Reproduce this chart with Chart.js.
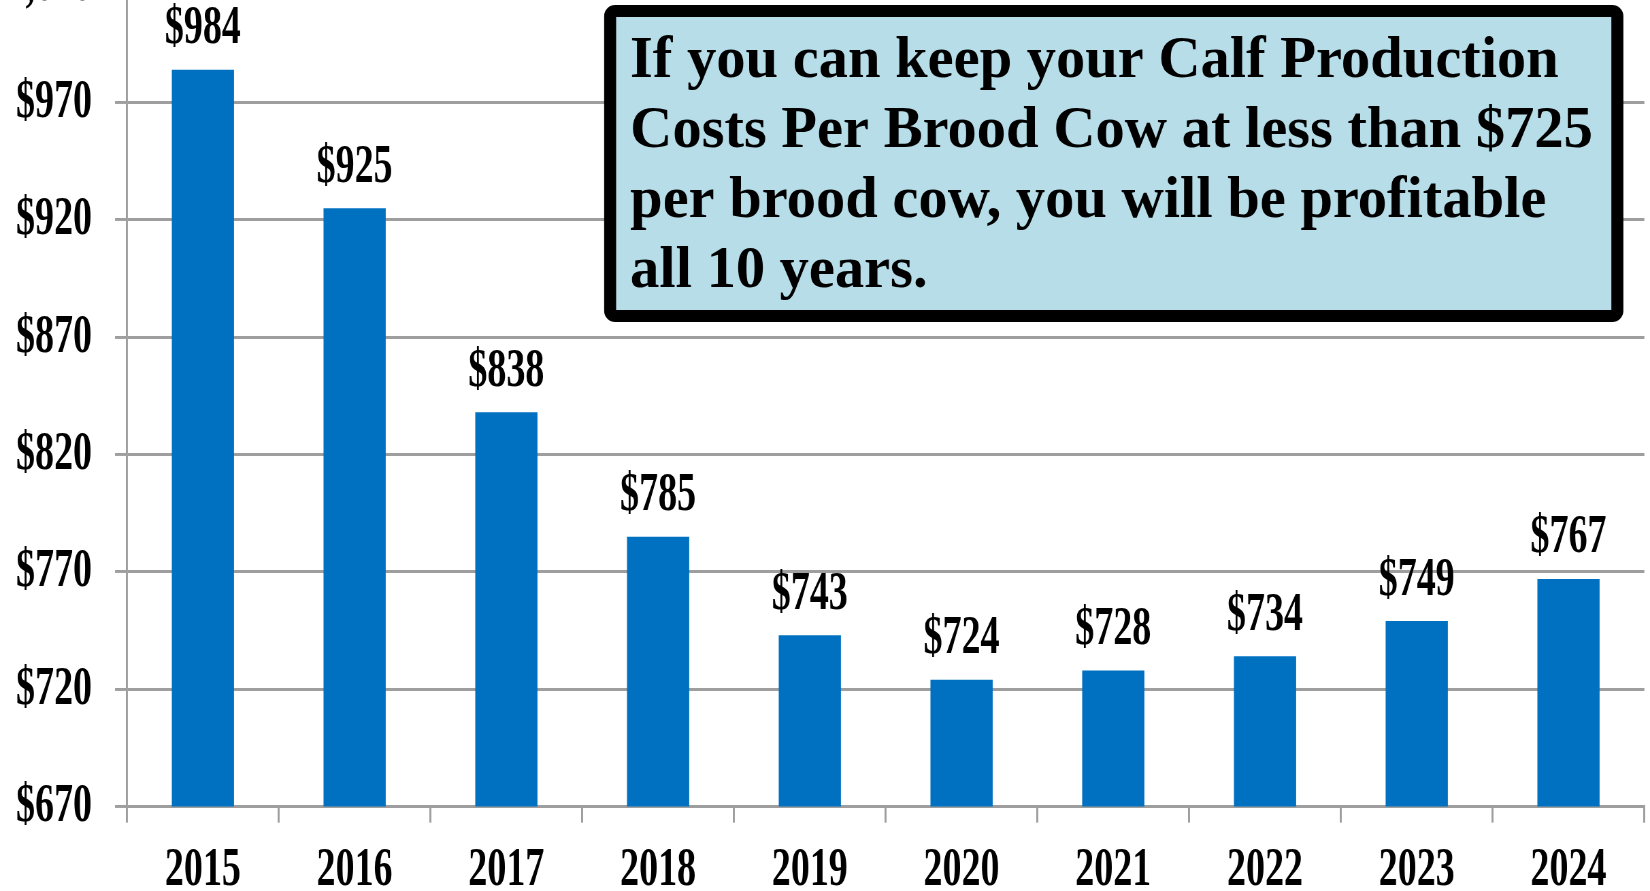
<!DOCTYPE html>
<html>
<head>
<meta charset="utf-8">
<title>Calf Production Costs Per Brood Cow</title>
<script src="https://cdn.jsdelivr.net/npm/chart.js@4.4.1/dist/chart.umd.min.js"></script>
<style>
  html, body { margin: 0; padding: 0; background: #fff; overflow: hidden; width: 1650px; height: 891px; }
  /* the source chart is stretched tall, so the canvas is stretched the same way */
  #wrap { position: absolute; left: 0; top: -82px; transform: scaleY(1.47); transform-origin: 0 0; }
</style>
</head>
<body>
<div id="wrap"><canvas id="costChart" width="1650" height="685"></canvas></div>
<script>
const years = ['2015', '2016', '2017', '2018', '2019', '2020', '2021', '2022', '2023', '2024'];
const costs = [984, 925, 838, 785, 743, 724, 728, 734, 749, 767];
const yTicks = [670, 720, 770, 820, 870, 920, 970, 1020];
const noteLines = [
  'If you can keep your Calf Production',
  'Costs Per Brood Cow at less than $725',
  'per brood cow, you will be profitable',
  'all 10 years.'
];

const STRETCH = 1.47;
const TOP = -82;
const serif = '"Liberation Serif", "Times New Roman", serif';
const gridGray = '#9E9E9E';

const dollar = v => '$' + Number(v).toLocaleString('en-US');

// $ labels above the bars
const valueLabels = {
  id: 'valueLabels',
  afterDatasetsDraw(chart) {
    const ctx = chart.ctx;
    const meta = chart.getDatasetMeta(0);
    ctx.save();
    ctx.font = 'bold 38px ' + serif;
    ctx.fillStyle = '#000';
    ctx.textAlign = 'center';
    ctx.textBaseline = 'alphabetic';
    meta.data.forEach((bar, i) => {
      ctx.fillText(dollar(costs[i]), bar.x, bar.y - 18);
    });
    ctx.restore();
  }
};

// note box, drawn un-stretched in page pixels
const noteBox = {
  id: 'noteBox',
  afterDraw(chart) {
    const ctx = chart.ctx;
    ctx.save();
    ctx.translate(0, -TOP / STRETCH);
    ctx.scale(1, 1 / STRETCH);

    ctx.beginPath();
    ctx.roundRect(610, 11, 1007, 305, 5);
    ctx.fillStyle = '#B7DDE8';
    ctx.fill();
    ctx.lineWidth = 12;
    ctx.strokeStyle = '#000';
    ctx.stroke();

    ctx.font = 'bold 58.5px ' + serif;
    ctx.fillStyle = '#000';
    ctx.textAlign = 'left';
    ctx.textBaseline = 'alphabetic';
    noteLines.forEach((line, i) => {
      ctx.fillText(line, 630, 77 + i * 70);
    });
    ctx.restore();
  }
};

const ctx = document.getElementById('costChart').getContext('2d');
new Chart(ctx, {
  type: 'bar',
  data: {
    labels: years,
    datasets: [{
      label: 'Calf Production Costs Per Brood Cow',
      data: costs,
      backgroundColor: '#0070C0',
      barPercentage: 0.41,
      categoryPercentage: 1
    }]
  },
  options: {
    responsive: false,
    animation: false,
    devicePixelRatio: STRETCH,
    layout: { padding: { top: 0, right: 6, bottom: 4, left: 0 } },
    plugins: {
      legend: { display: false },
      tooltip: { enabled: false }
    },
    scales: {
      x: {
        grid: {
          drawOnChartArea: false,
          drawTicks: true,
          tickLength: 11,
          color: gridGray,
          lineWidth: 2
        },
        border: { color: gridGray, width: 2 },
        ticks: {
          color: '#000',
          padding: 10,
          font: { family: serif, size: 38, weight: 'bold' }
        }
      },
      y: {
        min: yTicks[0],
        max: yTicks[yTicks.length - 1],
        afterBuildTicks(scale) {
          scale.ticks = yTicks.map(v => ({ value: v }));
        },
        afterFit(scale) {
          scale.width = 127;
        },
        grid: {
          color: gridGray,
          lineWidth: 2,
          tickLength: 12
        },
        border: { color: gridGray, width: 2 },
        ticks: {
          color: '#000',
          padding: 23,
          font: { family: serif, size: 38, weight: 'bold' },
          callback: v => dollar(v)
        }
      }
    }
  },
  plugins: [valueLabels, noteBox]
});
</script>
</body>
</html>
